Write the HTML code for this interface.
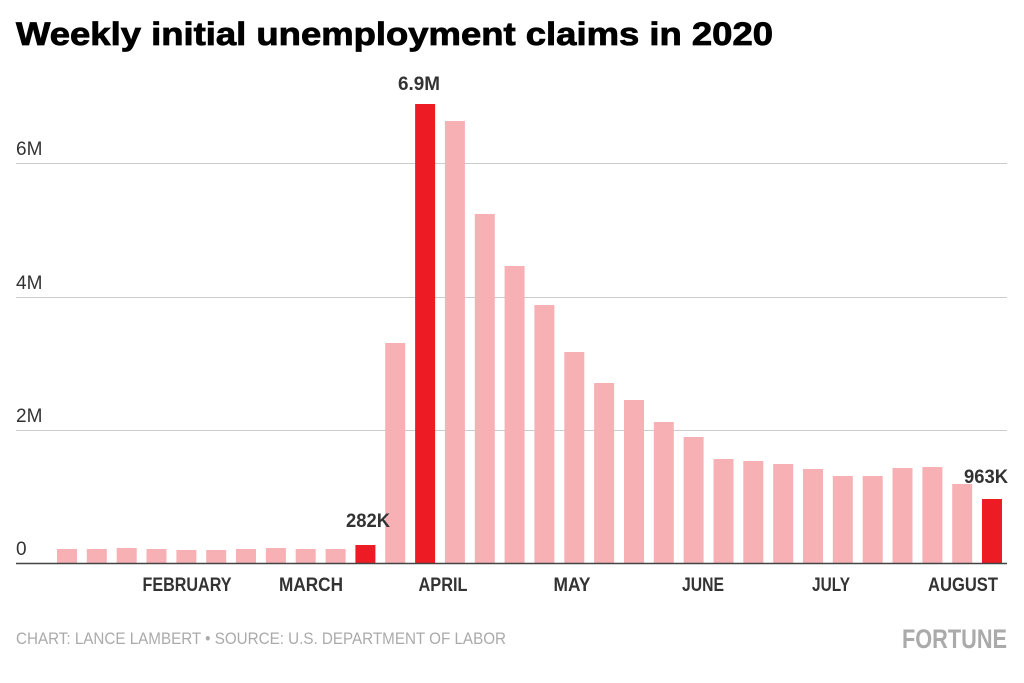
<!DOCTYPE html>
<html><head><meta charset="utf-8"><style>
html,body{margin:0;padding:0;background:#fff;}
svg{display:block;}
</style></head><body>
<svg width="1024" height="683" viewBox="0 0 1024 683" xmlns="http://www.w3.org/2000/svg" font-family="Liberation Sans, Arial, sans-serif">
<text x="16" y="45" font-size="32" font-weight="bold" fill="#000" textLength="757" lengthAdjust="spacingAndGlyphs" stroke="#000" stroke-width="0.8">Weekly initial unemployment claims in 2020</text>
<g stroke="#cccccc" stroke-width="1">
<line x1="16" y1="163.5" x2="1007" y2="163.5"/>
<line x1="16" y1="297.5" x2="1007" y2="297.5"/>
<line x1="16" y1="430.5" x2="1007" y2="430.5"/>
</g>
<g font-size="19" fill="#333">
<text x="16" y="155">6M</text>
<text x="16" y="289">4M</text>
<text x="16" y="422">2M</text>
<text x="16" y="555">0</text>
</g>
<g fill="#f7b0b4">
<rect x="57.0" y="549" width="20" height="14"/>
<rect x="86.8" y="549" width="20" height="14"/>
<rect x="116.7" y="548" width="20" height="15"/>
<rect x="146.5" y="549" width="20" height="14"/>
<rect x="176.4" y="550" width="20" height="13"/>
<rect x="206.2" y="550" width="20" height="13"/>
<rect x="236.0" y="549" width="20" height="14"/>
<rect x="265.9" y="548" width="20" height="15"/>
<rect x="295.7" y="549" width="20" height="14"/>
<rect x="325.6" y="549" width="20" height="14"/>
<rect x="385.2" y="343" width="20" height="220"/>
<rect x="444.9" y="121" width="20" height="442"/>
<rect x="474.8" y="214" width="20" height="349"/>
<rect x="504.6" y="266" width="20" height="297"/>
<rect x="534.4" y="305" width="20" height="258"/>
<rect x="564.3" y="352" width="20" height="211"/>
<rect x="594.1" y="383" width="20" height="180"/>
<rect x="624.0" y="400" width="20" height="163"/>
<rect x="653.8" y="422" width="20" height="141"/>
<rect x="683.6" y="437" width="20" height="126"/>
<rect x="713.5" y="459" width="20" height="104"/>
<rect x="743.3" y="461" width="20" height="102"/>
<rect x="773.2" y="464" width="20" height="99"/>
<rect x="803.0" y="469" width="20" height="94"/>
<rect x="832.8" y="476" width="20" height="87"/>
<rect x="862.7" y="476" width="20" height="87"/>
<rect x="892.5" y="468" width="20" height="95"/>
<rect x="922.4" y="467" width="20" height="96"/>
<rect x="952.2" y="484" width="20" height="79"/>
</g>
<g fill="#ed1c24">
<rect x="355.4" y="545" width="20" height="18"/>
<rect x="415.1" y="104" width="20" height="459"/>
<rect x="982.0" y="499" width="20" height="64"/>
</g>
<line x1="16" y1="563.5" x2="1007" y2="563.5" stroke="#444" stroke-width="1.5"/>
<g font-size="19" font-weight="bold" fill="#333" text-anchor="middle">
<text x="419" y="90" textLength="42" lengthAdjust="spacingAndGlyphs">6.9M</text>
<text x="368" y="527" textLength="44" lengthAdjust="spacingAndGlyphs">282K</text>
<text x="986" y="483" textLength="44" lengthAdjust="spacingAndGlyphs">963K</text>
</g>
<g font-size="19" font-weight="bold" fill="#333" text-anchor="middle">
<text x="187" y="591" textLength="89" lengthAdjust="spacingAndGlyphs">FEBRUARY</text>
<text x="311" y="591" textLength="64" lengthAdjust="spacingAndGlyphs">MARCH</text>
<text x="443" y="591" textLength="49" lengthAdjust="spacingAndGlyphs">APRIL</text>
<text x="572" y="591" textLength="37" lengthAdjust="spacingAndGlyphs">MAY</text>
<text x="703" y="591" textLength="42" lengthAdjust="spacingAndGlyphs">JUNE</text>
<text x="831" y="591" textLength="38" lengthAdjust="spacingAndGlyphs">JULY</text>
<text x="963" y="591" textLength="70" lengthAdjust="spacingAndGlyphs">AUGUST</text>
</g>
<text x="16" y="644" font-size="17" fill="#aaa" textLength="490" lengthAdjust="spacingAndGlyphs">CHART: LANCE LAMBERT • SOURCE: U.S. DEPARTMENT OF LABOR</text>
<text x="1007" y="648" font-size="27" font-weight="bold" fill="#aaa" text-anchor="end" textLength="105" lengthAdjust="spacingAndGlyphs">FORTUNE</text>
</svg>
</body></html>
